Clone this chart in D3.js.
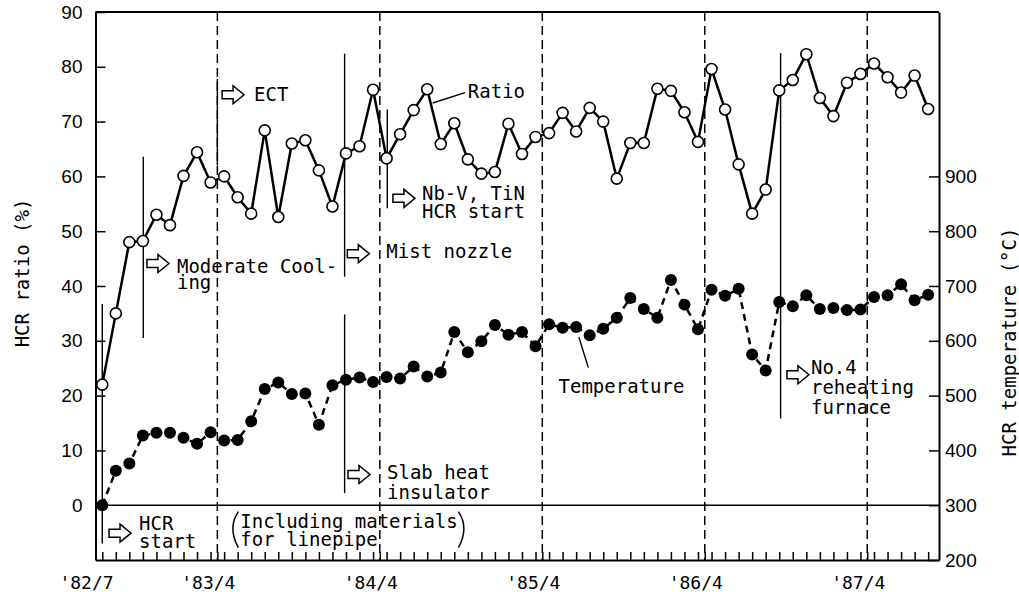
<!DOCTYPE html>
<html>
<head>
<meta charset="utf-8">
<script src="https://cdn.jsdelivr.net/npm/d3@7"></script>
<style>
    body { margin: 0; background: #fff; }
    text { fill: #000; }
</style>
</head>
<body>
<script>
// monthly HCR ratio (%) from '82/7 to '87/8
const ratio = [22, 35, 48, 48.2, 53, 51.1, 60.1, 64.4, 58.9, 60, 56.2, 53.2, 68.4, 52.6, 66, 66.6,
    61.1, 54.5, 64.2, 65.5, 75.8, 63.3, 67.7, 72.1, 75.9, 65.9, 69.7, 63.1, 60.5, 60.8, 69.6, 64.1,
    67.2, 67.9, 71.6, 68.2, 72.5, 70, 59.6, 66.1, 66.1, 76, 75.6, 71.7, 66.3, 79.6, 72.2, 62.2,
    53.2, 57.6, 75.7, 77.6, 82.3, 74.3, 71, 77.1, 78.7, 80.6, 78.1, 75.3, 78.4, 72.3];

// monthly HCR temperature (degC)
const temperature = [300, 363, 376, 427, 432, 432, 423, 412, 433, 418, 419, 453, 512, 524, 503, 504,
    447, 519, 529, 533, 525, 534, 531, 553, 535, 542, 616, 579, 599, 629, 611, 616,
    590, 630, 624, 625, 610, 622, 642, 678, 658, 642, 711, 666, 621, 693, 682, 695,
    575, 546, 671, 663, 683, 658, 660, 656, 657, 680, 683, 703, 674, 684];

// month offsets (from '82/7) of the labelled ticks
const periodMonths = [0, 9, 21, 33, 45, 57];
const periodLabels = ["'82/7", "'83/4", "'84/4", "'85/4", "'86/4", "'87/4"];

const ratioTicks = [0, 10, 20, 30, 40, 50, 60, 70, 80, 90];
const tempTicks = [200, 300, 400, 500, 600, 700, 800, 900];

const width = 1019, height = 592;
const mono = "'DejaVu Sans Mono', 'Liberation Mono', monospace";
const sans = "'Liberation Sans', Arial, sans-serif";

const svg = d3.select("body").append("svg")
    .attr("width", width)
    .attr("height", height);

const x = d3.scaleLinear().domain([0, 62.3]).range([95.5, 939]);
const y = d3.scaleLinear().domain([-10, 90]).range([560, 12]);
const yT = d3.scaleLinear().domain([200, 1200]).range([560, 12]);

const pos = i => x(i + 0.5);

// event markers: [month, ratio from, ratio to]
const events = [
    [0.5, 36.7, -7],
    [3.53, 63.6, 30.5],
    [9, 77.8, 62],
    [18.4, 82.4, 41.7],
    [18.4, 34.8, 2.2],
    [21.55, 72.2, 54.2],
    [50.6, 82.5, 15.8]
];

const notes = [
    { m: 1.0, r: -5.1, dx: 30, dy: -3, lh: 18, lines: ["HCR", "start"] },
    { m: 3.8, r: 44.1, dx: 30, dy: 9, lh: 16, lines: ["Moderate Cool-", "ing"] },
    { m: 9.35, r: 74.9, dx: 32, dy: 6, lh: 18, lines: ["ECT"] },
    { m: 18.6, r: 45.9, dx: 39, dy: 4, lh: 18, lines: ["Mist nozzle"] },
    { m: 21.97, r: 56.0, dx: 29, dy: 2, lh: 18, lines: ["Nb-V, TiN", "HCR start"] },
    { m: 18.65, r: 5.6, dx: 39, dy: 4, lh: 20, lines: ["Slab heat", "insulator"] },
    { m: 51.07, r: 23.8, dx: 24, dy: -1, lh: 20, lines: ["No.4", "reheating", "furnace"] }
];

// period boundaries (dashed)
svg.append("g")
    .selectAll("line")
    .data(periodMonths.slice(1))
    .join("line")
    .attr("x1", d => x(d)).attr("x2", d => x(d))
    .attr("y1", y(90)).attr("y2", y(-10))
    .attr("stroke", "#000")
    .attr("stroke-width", 1.5)
    .attr("stroke-dasharray", "9,5");

// zero line
svg.append("line")
    .attr("x1", x(0)).attr("x2", x(62.3))
    .attr("y1", y(0)).attr("y2", y(0))
    .attr("stroke", "#000")
    .attr("stroke-width", 1.5);

svg.append("g")
    .selectAll("line")
    .data(events)
    .join("line")
    .attr("x1", d => x(d[0])).attr("x2", d => x(d[0]))
    .attr("y1", d => y(d[1])).attr("y2", d => y(d[2]))
    .attr("stroke", "#000")
    .attr("stroke-width", 1.4);

// temperature series
svg.append("path")
    .datum(temperature)
    .attr("fill", "none")
    .attr("stroke", "#000")
    .attr("stroke-width", 2.5)
    .attr("stroke-dasharray", "7,5")
    .attr("d", d3.line().x((d, i) => pos(i)).y(d => yT(d)));

svg.append("g")
    .selectAll("circle")
    .data(temperature)
    .join("circle")
    .attr("cx", (d, i) => pos(i))
    .attr("cy", d => yT(d))
    .attr("r", 6)
    .attr("fill", "#000");

// ratio series
svg.append("path")
    .datum(ratio)
    .attr("fill", "none")
    .attr("stroke", "#000")
    .attr("stroke-width", 2.5)
    .attr("d", d3.line().x((d, i) => pos(i)).y(d => y(d)));

svg.append("g")
    .selectAll("circle")
    .data(ratio)
    .join("circle")
    .attr("cx", (d, i) => pos(i))
    .attr("cy", d => y(d))
    .attr("r", 5.5)
    .attr("fill", "#fff")
    .attr("stroke", "#000")
    .attr("stroke-width", 1.6);

// axes
const axisStyle = g => {
    g.select(".domain").attr("stroke-width", 2);
    g.selectAll(".tick line").attr("stroke-width", 1.5);
};

svg.append("g")
    .attr("transform", `translate(${x(0)},0)`)
    .call(d3.axisLeft(y).tickValues(ratioTicks).tickSize(-10).tickSizeOuter(0).tickPadding(13))
    .call(axisStyle)
    .call(g => g.selectAll("text").attr("font-family", sans).attr("font-size", 19));

svg.append("g")
    .attr("transform", `translate(${x(62.3)},0)`)
    .call(d3.axisRight(yT).tickValues(tempTicks).tickSize(-10).tickSizeOuter(0).tickPadding(6))
    .call(axisStyle)
    .call(g => g.selectAll("text").attr("font-family", sans).attr("font-size", 19));

svg.append("g")
    .attr("transform", `translate(0,${y(-10)})`)
    .call(d3.axisBottom(x)
        .tickValues(ratio.map((d, i) => i + 0.5).concat(periodMonths.slice(1)))
        .tickSize(-8).tickSizeOuter(0).tickFormat(""))
    .call(axisStyle);

svg.append("line")
    .attr("x1", x(0)).attr("x2", x(62.3))
    .attr("y1", y(90)).attr("y2", y(90))
    .attr("stroke", "#000")
    .attr("stroke-width", 2);

svg.append("g")
    .selectAll("text")
    .data(periodMonths)
    .join("text")
    .attr("x", d => x(d) - 9)
    .attr("y", y(-10) + 29)
    .attr("text-anchor", "middle")
    .attr("font-family", mono)
    .attr("font-size", 18)
    .text((d, i) => periodLabels[i]);

// axis titles
svg.append("text")
    .attr("transform", `translate(29,273) rotate(-90)`)
    .attr("text-anchor", "middle")
    .attr("font-family", mono)
    .attr("font-size", 19)
    .text("HCR ratio (%)");

svg.append("text")
    .attr("transform", `translate(1016,342) rotate(-90)`)
    .attr("text-anchor", "middle")
    .attr("font-family", mono)
    .attr("font-size", 19)
    .text("HCR temperature (\u00b0C)");

// annotations with block arrows
const arrow = "M0,-4 L11,-4 L11,-9 L22,0 L11,9 L11,4 L0,4 Z";

const note = svg.append("g")
    .selectAll("g")
    .data(notes)
    .join("g")
    .attr("transform", d => `translate(${x(d.m)},${y(d.r)})`);

note.append("path")
    .attr("d", arrow)
    .attr("fill", "#fff")
    .attr("stroke", "#000")
    .attr("stroke-width", 1.5);

note.append("text")
    .attr("font-family", mono)
    .attr("font-size", 19)
    .selectAll("tspan")
    .data(d => d.lines.map((t, k) => ({ t, x: d.dx, y: d.dy + k * d.lh })))
    .join("tspan")
    .attr("x", d => d.x)
    .attr("y", d => d.y)
    .text(d => d.t);

// series labels with leaders
const labels = [
    { text: "Ratio", m: 27.5, r: 74.3, from: [24.9, 73.4], to: [27.3, 75.3] },
    { text: "Temperature", m: 34.2, r: 20.5, from: [35.7, 30.7], to: [36.4, 25.1] }
];

svg.append("g")
    .selectAll("line")
    .data(labels)
    .join("line")
    .attr("x1", d => x(d.from[0])).attr("y1", d => y(d.from[1]))
    .attr("x2", d => x(d.to[0])).attr("y2", d => y(d.to[1]))
    .attr("stroke", "#000")
    .attr("stroke-width", 1.4);

svg.append("g")
    .selectAll("text")
    .data(labels)
    .join("text")
    .attr("x", d => x(d.m))
    .attr("y", d => y(d.r))
    .attr("font-family", mono)
    .attr("font-size", 19)
    .text(d => d.text);

// note under the zero line
const incl = svg.append("g")
    .attr("transform", `translate(${x(10.7)},${y(-4.1)})`);

incl.append("text")
    .attr("font-family", mono)
    .attr("font-size", 19)
    .selectAll("tspan")
    .data(["Including materials", "for linepipe"])
    .join("tspan")
    .attr("x", 0)
    .attr("y", (d, i) => i * 18)
    .text(d => d);

incl.append("path")
    .attr("d", "M-2,-16 Q-13,0 -2,20 M218,-16 Q229,0 218,20")
    .attr("fill", "none")
    .attr("stroke", "#000")
    .attr("stroke-width", 1.5);
</script>
</body>
</html>
